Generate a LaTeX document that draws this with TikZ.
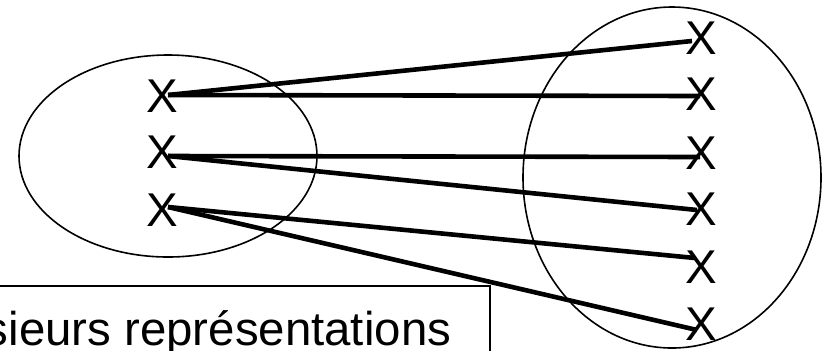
\documentclass[tikz,border=0pt]{standalone}
\usepackage{fontspec}
\setmainfont{Liberation Sans}
\usetikzlibrary{calc}

\begin{document}
\begin{tikzpicture}[
    x=0.5pt, y=-0.5pt,
    font=\fontsize{23.7}{28}\selectfont,
    setshape/.style={draw, line width=0.8pt},
    elem/.style={inner sep=0pt},
    assoc/.style={line width=2.3pt, line cap=butt},
    notebox/.style={draw, line width=0.8pt, inner xsep=19.5pt, inner ysep=13pt, text height=17pt, text depth=5pt}
]
  \useasboundingbox (0,0) rectangle (830,350);
  \clip (0,0) rectangle (830,350);

  % the two sets
  \draw[setshape] (168,156) ellipse [x radius=149, y radius=101];
  \draw[setshape] (672,177.5) ellipse [x radius=149, y radius=170.5];

  % elements of the left set
  \foreach \i/\y in {1/96,2/152,3/210} {
    \node[elem] (src-\i) at (162,\y) {X};
  }

  % elements of the right set
  \foreach \j/\y in {1/38,2/94,3/153,4/209,5/267,6/324} {
    \node[elem] (img-\j) at (701,\y) {X};
  }

  % links, with small offsets at both ends
  \foreach \i/\sy/\j/\tx/\ty in {1/-1/1/-9/3, 1/-1/2/-1/2, 2/4/3/-1/4, 2/4/4/-4/1, 3/-3/5/-6/-9, 3/-3/6/-4/6} {
    \draw[assoc] ($(src-\i.center)+(6,\sy)$) -- ($(img-\j.center)+(\tx,\ty)$);
  }

  % caption box, cut by the left edge
  \node[notebox, anchor=north east] (note) at (491,285) {Plusieurs représentations};
\end{tikzpicture}
\end{document}
